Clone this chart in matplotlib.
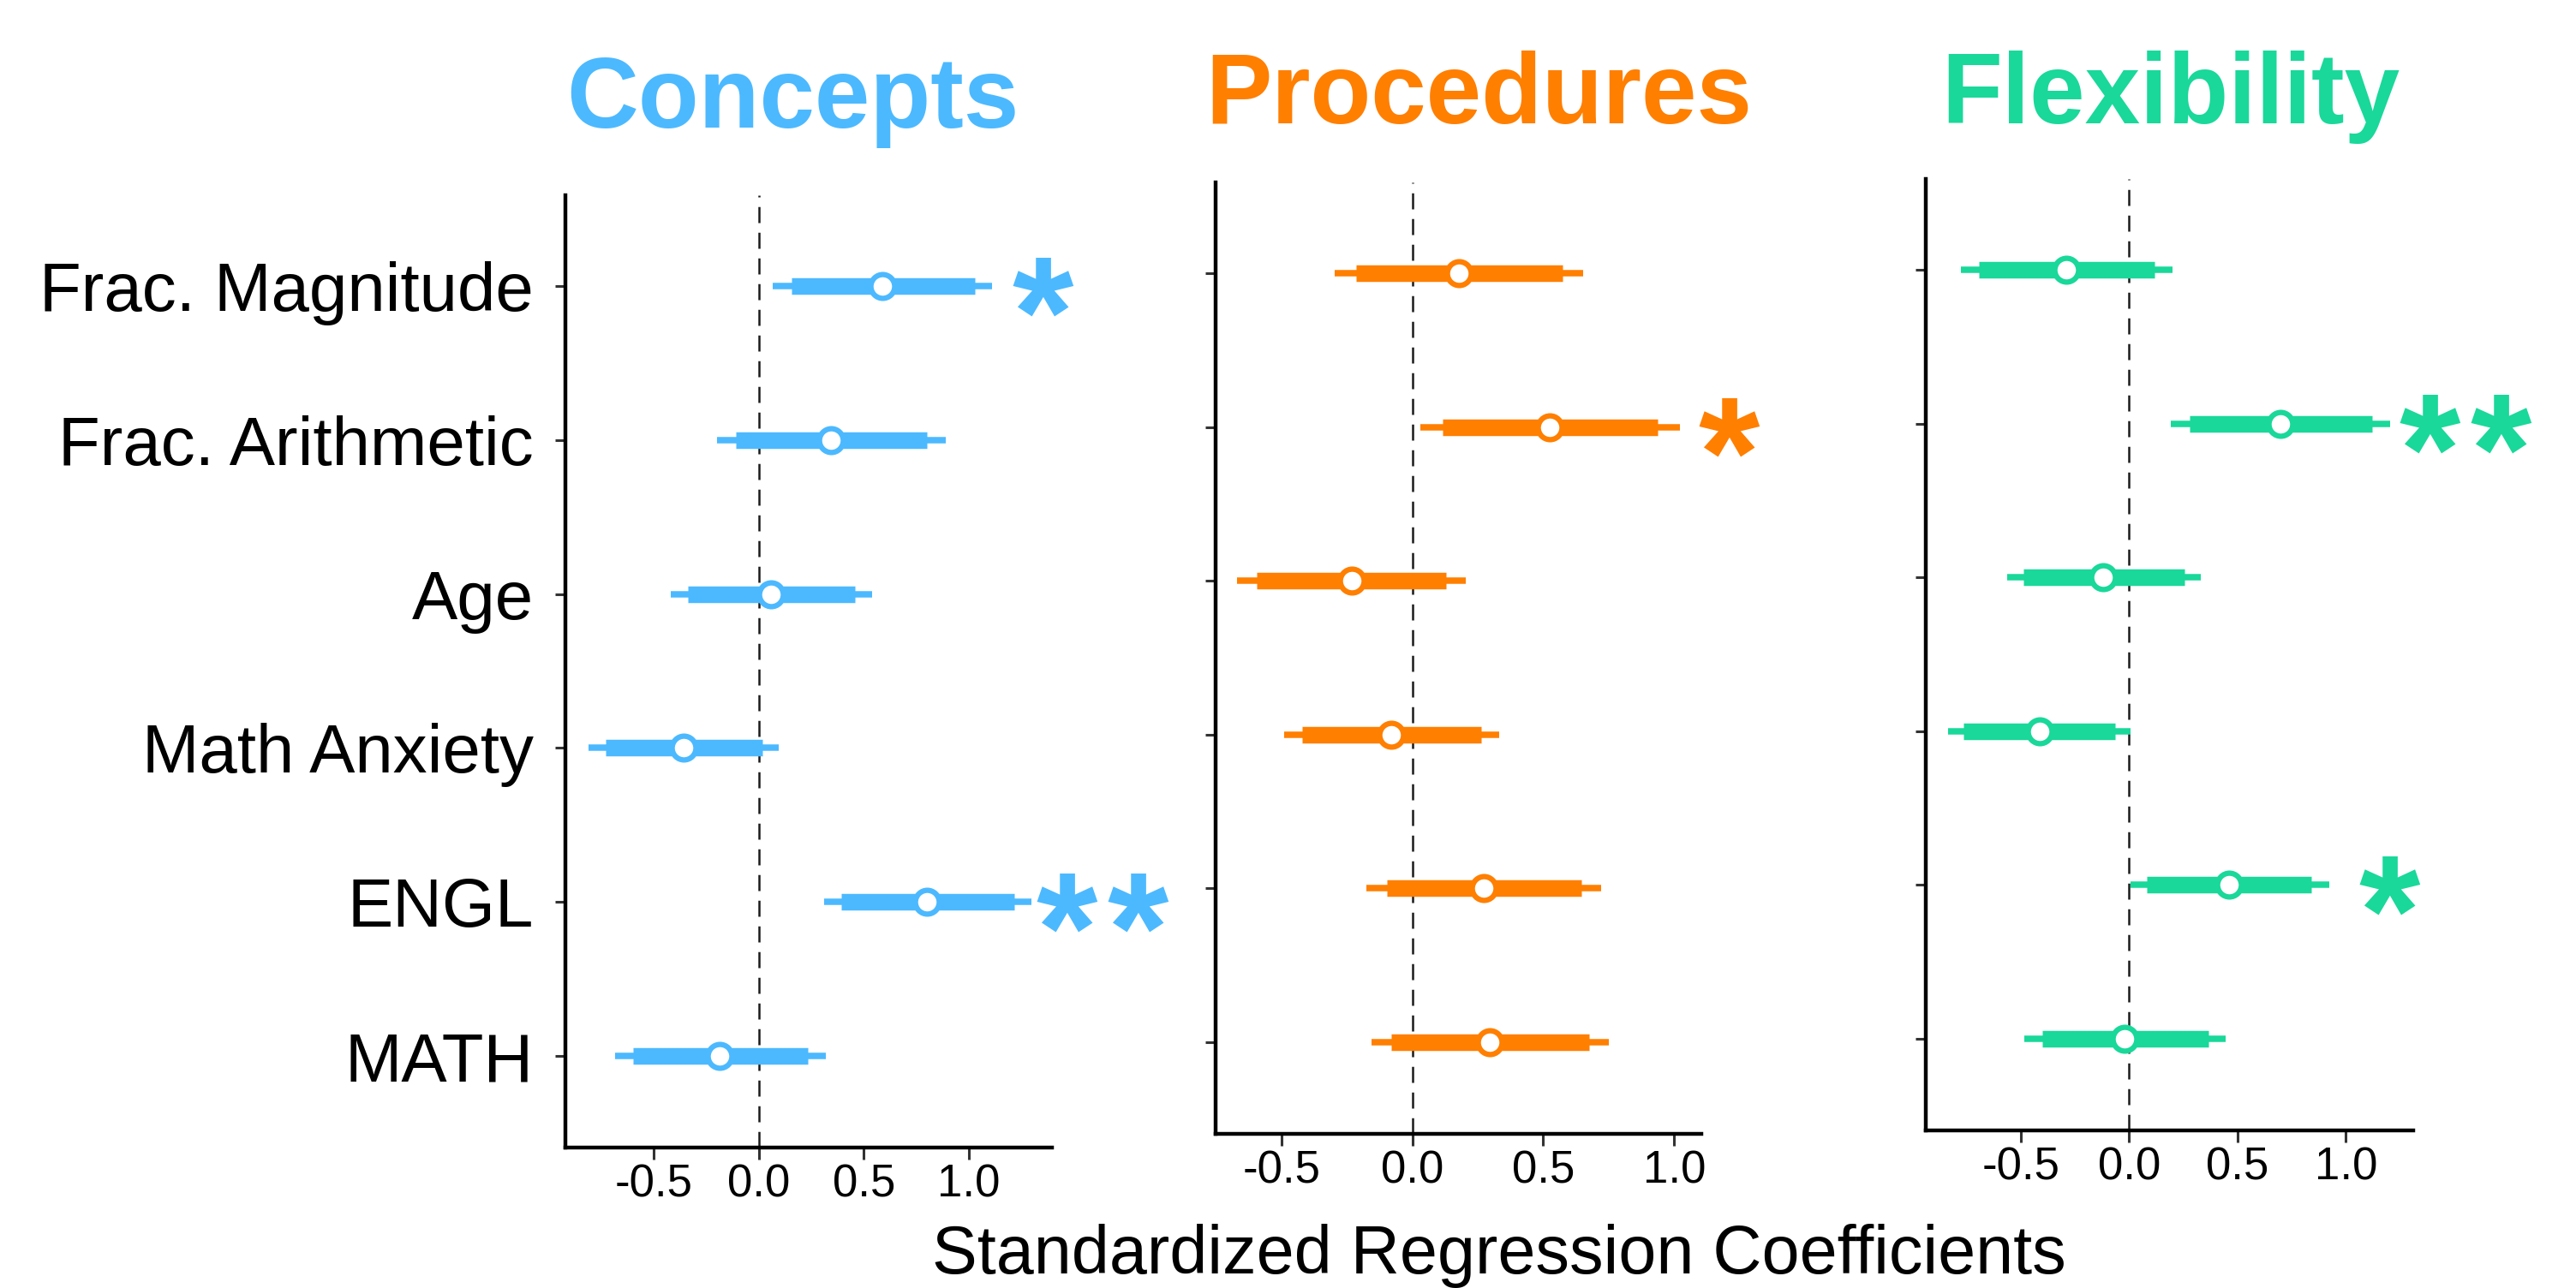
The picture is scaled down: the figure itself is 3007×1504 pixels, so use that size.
import numpy as np
import matplotlib
matplotlib.use("Agg")
import matplotlib.pyplot as plt

plt.rcParams['font.family'] = ['Liberation Sans', 'DejaVu Sans']

# ---------------- data ----------------
predictors = ["Frac. Magnitude", "Frac. Arithmetic", "Age", "Math Anxiety", "ENGL", "MATH"]
outcomes = ["Concepts", "Procedures", "Flexibility"]
colors = ["#4CB9FF", "#FF7F00", "#19D89A"]

concepts_thin_lo  = [0.066, -0.20, -0.42, -0.81, 0.31, -0.686]
concepts_thick_lo = [0.154, -0.11, -0.34, -0.73, 0.394, -0.60]
concepts_est      = [0.59, 0.343, 0.056, -0.36, 0.80, -0.188]
concepts_thick_hi = [1.03, 0.80, 0.457, 0.015, 1.217, 0.232]
concepts_thin_hi  = [1.11, 0.89, 0.539, 0.095, 1.30, 0.318]

procedures_thin_lo  = [-0.296, 0.032, -0.668, -0.49, -0.174, -0.156]
procedures_thick_lo = [-0.215, 0.115, -0.594, -0.42, -0.097, -0.079]
procedures_est      = [0.179, 0.524, -0.232, -0.079, 0.274, 0.295]
procedures_thick_hi = [0.575, 0.938, 0.129, 0.262, 0.645, 0.674]
procedures_thin_hi  = [0.653, 1.022, 0.203, 0.331, 0.721, 0.751]

flexibility_thin_lo  = [-0.776, 0.19, -0.5625, -0.837, 0.006, -0.484]
flexibility_thick_lo = [-0.692, 0.278, -0.488, -0.766, 0.080, -0.403]
flexibility_est      = [-0.29, 0.70, -0.119, -0.415, 0.462, -0.02]
flexibility_thick_hi = [0.117, 1.12, 0.254, -0.064, 0.841, 0.367]
flexibility_thin_hi  = [0.20, 1.206, 0.329, 0.006, 0.922, 0.444]

# significance stars: (predictor index, number of stars, x of the group centre in data units)
concepts_stars = [(0, 1, 1.35), (4, 2, 1.637)]
procedures_stars = [(1, 1, 1.21)]
flexibility_stars = [(1, 2, 1.55), (4, 1, 1.20)]

xticks = [-0.5, 0.0, 0.5, 1.0]
xtick_labels = ["-0.5", "0.0", "0.5", "1.0"]
xlabel = "Standardized Regression Coefficients"

panels = [
    (concepts_thin_lo, concepts_thick_lo, concepts_est, concepts_thick_hi, concepts_thin_hi, concepts_stars),
    (procedures_thin_lo, procedures_thick_lo, procedures_est, procedures_thick_hi, procedures_thin_hi, procedures_stars),
    (flexibility_thin_lo, flexibility_thick_lo, flexibility_est, flexibility_thick_hi, flexibility_thin_hi, flexibility_stars),
]

# ---------------- layout (pixels in a 3007x1504 canvas) ----------------
W, H = 3007, 1504
fig = plt.figure(figsize=(W / 100, H / 100), dpi=100)

boxes = [  # left, right, top, bottom in px
    (660, 1228, 228, 1340),
    (1419, 1986, 213, 1324),
    (2248, 2817, 209, 1320),
]
xlims = [(-0.922, 1.396), (-0.751, 1.104), (-0.939, 1.311)]
title_pos = [(925, 149), (1726, 144), (2534, 144)]

STAR_PITCH = 59.8   # points between the centres of two stars
STAR_SIZE = 132
STAR_DROP = -67     # baseline offset so the glyph is centred on the row

ypos = np.arange(len(predictors))

for i, (box, xl, data, title, col, tp) in enumerate(zip(boxes, xlims, panels, outcomes, colors, title_pos)):
    l, r, t, b = box
    ax = fig.add_axes([l / W, 1 - b / H, (r - l) / W, (b - t) / H])
    thin_lo, thick_lo, est, thick_hi, thin_hi, stars = data

    ax.axvline(0, color="#1a1a1a", lw=1.8, linestyle=(0, (7.5, 4.5)), zorder=1)
    ax.hlines(ypos, thin_lo, thin_hi, colors=col, lw=5.4, capstyle="butt", zorder=2)
    ax.hlines(ypos, thick_lo, thick_hi, colors=col, lw=14, capstyle="butt", zorder=3)
    ax.plot(est, ypos, "o", ms=20, mfc="white", mec=col, mew=4.5, zorder=4, linestyle="none")

    for idx, n, sx in stars:
        for k in range(n):
            dx = (k - (n - 1) / 2) * STAR_PITCH
            ax.annotate("*", xy=(sx, ypos[idx]), xytext=(dx, STAR_DROP), textcoords="offset points",
                        ha="center", va="baseline", fontsize=STAR_SIZE, fontweight="bold",
                        color=col, annotation_clip=False)

    ax.set_xlim(*xl)
    ax.set_ylim(5.595, -0.59)
    ax.set_yticks(ypos)
    if i == 0:
        ax.set_yticklabels(predictors, fontsize=57.5)
    else:
        ax.set_yticklabels([])
    ax.set_xticks(xticks)
    ax.set_xticklabels(xtick_labels, fontsize=38)

    for s in ["top", "right"]:
        ax.spines[s].set_visible(False)
    for s in ["left", "bottom"]:
        ax.spines[s].set_linewidth(3.2)
        ax.spines[s].set_color("black")
    ax.tick_params(axis="y", length=9, width=2.2, color="#333333", pad=18)
    ax.tick_params(axis="x", length=10, width=2.2, color="#333333", pad=3)
    ax.set_facecolor("none")

    fig.text(tp[0] / W, 1 - tp[1] / H, title, ha="center", va="baseline",
             fontsize=83.5, fontweight="bold", color=col)

fig.text(1750 / W, 1 - 1487 / H, xlabel, ha="center", va="baseline", fontsize=57)

fig.savefig("out.png", dpi=100, facecolor="white")
